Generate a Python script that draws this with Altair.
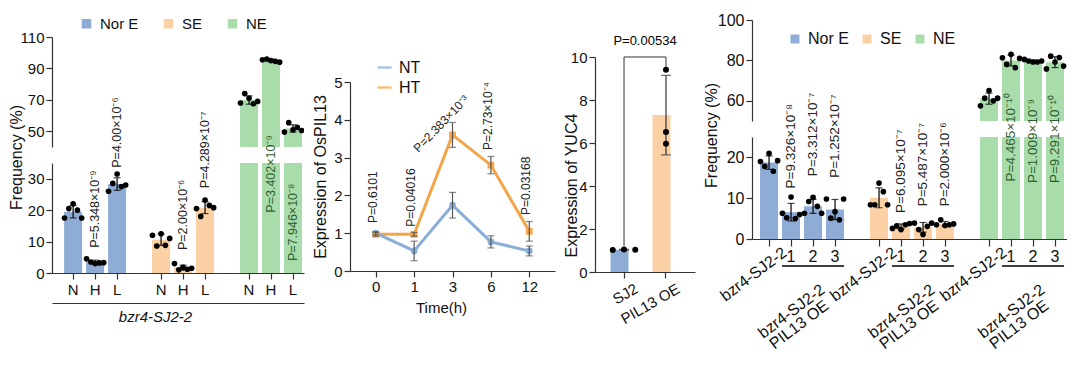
import altair as alt
import pandas as pd

FONT = "Liberation Sans"
BLUE = "#8eacd6"
PEACH = "#fbd0a4"
GREEN = "#a8dcab"
NT_COL = "#8aaed8"
HT_COL = "#f3a547"
AXC = "#333333"
PGREEN = "#2f5f31"

# ---------------- Panel A data ----------------
a_env = ["Nor E", "SE", "NE"]
a_treat = ["N", "H", "L"]
a_points = [
    [17.5, 20.5, 22.0, 20.0, 17.5],   # Nor E N
    [4.5, 3.5, 3.0, 3.2, 3.3],        # Nor E H
    [26.0, 28.5, 31.5, 27.5, 28.0],   # Nor E L
    [12.0, 8.6, 12.5, 8.8, 11.0],     # SE N
    [3.0, 1.0, 1.8, 1.2, 1.5],        # SE H
    [20.5, 18.0, 23.2, 21.5, 20.8],   # SE L
    [68.0, 74.0, 71.0, 67.5, 69.0],   # NE N
    [95.5, 96.0, 95.0, 94.5, 94.0],   # NE H
    [49.5, 55.5, 51.0, 52.5, 50.5],   # NE L
]
a_pvals = ["", "P=5.348×10⁻⁹", "P=4.00×10⁻⁶",
           "", "P=2.00×10⁻⁶", "P=4.289×10⁻⁷",
           "", "P=3.402×10⁻⁹", "P=7.946×10⁻⁸"]
a_pval_y = [None, 8.0, 33.5, None, 7.3, 27.0, None, 19.2, 3.8]
a_group_title = "bzr4-SJ2-2"

# ---------------- Panel B data ----------------
b_time = ["0", "1", "3", "6", "12"]
b_series = ["NT", "HT"]
nt_mean = [1.00, 0.53, 1.74, 0.77, 0.53]
nt_err = [0.04, 0.26, 0.34, 0.16, 0.13]
ht_mean = [0.97, 0.97, 3.60, 2.80, 1.05]
ht_err = [0.05, 0.05, 0.33, 0.23, 0.26]
b_pvals = ["P=0.6101", "P=0.04016", "P=2.383×10⁻³", "P=2.73×10⁻⁴", "P=0.03168"]
b_pval_y = [1.27, 1.17, 3.9, 3.2, 1.48]

# ---------------- Panel C data ----------------
c_lines = ["SJ2", "PIL13 OE"]
c_sj2 = [1.02, 1.05, 1.04]
c_oe = [9.41, 6.51, 5.97]
c_pval = "P=0.00534"
c_bracket_top = 10.0
c_bracket_ends = [1.2, 9.5]

# ---------------- Panel D data ----------------
d_env = ["Nor E", "SE", "NE"]
d_lines = ["bzr4-SJ2-2", "1", "2", "3"]
d_points = [
    [19.0, 17.8, 21.0, 16.6, 19.2],   # Nor E bzr4
    [6.3, 5.2, 10.3, 5.0, 6.0],       # Nor E 1
    [6.3, 9.2, 10.2, 8.0, 6.3],       # Nor E 2
    [9.8, 5.1, 6.7, 4.7, 9.8],        # Nor E 3
    [8.4, 8.4, 13.7, 11.6, 8.4],      # SE bzr4
    [2.6, 3.2, 2.3, 3.5, 3.8],        # SE 1
    [3.9, 2.3, 1.1, 3.1, 3.9],        # SE 2
    [3.5, 4.7, 3.3, 3.5, 3.7],        # SE 3
    [57.5, 61.3, 65.1, 60.0, 61.3],   # NE bzr4
    [81.3, 78.0, 83.0, 76.4, 81.0],   # NE 1
    [80.5, 79.7, 79.2, 79.2, 79.7],   # NE 2
    [75.8, 82.1, 79.2, 81.4, 77.2],   # NE 3
]
d_pvals = ["", "P=9.326×10⁻⁸", "P=3.312×10⁻⁷", "P=1.252×10⁻⁷",
           "", "P=6.095×10⁻⁷", "P=5.487×10⁻⁷", "P=2.000×10⁻⁶",
           "", "P=4.465×10⁻¹⁰", "P=1.009×10⁻⁹", "P=9.291×10⁻¹⁰"]
d_pval_y = [None, 12.4, 15.4, 15.0, None, 6.4, 8.0, 8.0, None, 14.1, 13.7, 13.7]
d_group_label = ["bzr4-SJ2-2", "PIL13 OE"]

ENV_RANGE = [BLUE, PEACH, GREEN]


def spacer(h, w):
    return alt.Chart(pd.DataFrame({"z": [0]})).mark_point(opacity=0).properties(width=w, height=h)


def yaxis(values, title=None, size=14, **kw):
    return alt.Axis(values=values, title=title, labelFontSize=size, tickSize=6,
                    titleFontSize=16, titleFontWeight="normal", grid=False, **kw)


# ======================= Panel A =======================
a_domain = []
for i, e in enumerate(a_env):
    a_domain += [f"{t}·{e}" for t in a_treat]
    if i < len(a_env) - 1:
        a_domain.append(f"gap{i}")
a_bar_cats = [f"{t}·{e}" for e in a_env for t in a_treat]

rows = []
for k, cat in enumerate(a_bar_cats):
    for r, v in enumerate(a_points[k]):
        rows.append({"cat": cat, "env": a_env[k // 3], "rep": r, "v": v})
a_df = pd.DataFrame(rows)
a_ann = pd.DataFrame([{"cat": c, "env": a_env[k // 3], "p": a_pvals[k], "py": a_pval_y[k]}
                      for k, c in enumerate(a_bar_cats) if a_pvals[k]])

A_W = 252
A_XS = alt.Scale(domain=a_domain, paddingInner=0.18, paddingOuter=0.32, align=0.86)


def xA(axis=None):
    return alt.X("cat:N", scale=A_XS, axis=axis, title=None)


def yA_top(field):
    return alt.Y(field, scale=alt.Scale(domain=[40, 110], nice=False, zero=False),
                 axis=yaxis([50, 70, 90, 110], size=15), title=None)


A_TITLE = "Frequency (%)"


def yA_bot(field):
    return alt.Y(field, scale=alt.Scale(domain=[0, 35], nice=False),
                 axis=yaxis([0, 10, 20, 30], title=A_TITLE, size=15, titleX=-28, titleY=-6),
                 title=A_TITLE)


a_color_leg = alt.Color("env:N", scale=alt.Scale(domain=a_env, range=ENV_RANGE),
                        legend=alt.Legend(orient="none", legendX=27, legendY=-21,
                                          direction="horizontal", title=None,
                                          symbolType="square", symbolSize=90,
                                          symbolStrokeWidth=0, labelFontSize=15,
                                          columnPadding=22, labelOffset=6))
a_color = alt.Color("env:N", scale=alt.Scale(domain=a_env, range=ENV_RANGE), legend=None)
a_xoff = alt.XOffset("rep:N", scale=alt.Scale(paddingInner=0, paddingOuter=0.1))

ne_only = "datum.env == 'NE'"
not_ne = "datum.env != 'NE'"

a_top = alt.layer(
    alt.Chart(a_df).transform_filter(ne_only).mark_bar(clip=True).encode(
        x=xA(), y=yA_top("mean(v):Q"), color=a_color_leg),
    alt.Chart(a_df).transform_filter(ne_only).mark_errorbar(
        extent="stdev", ticks={"size": 7}, color="black", thickness=1.2).encode(
        x=xA(), y=yA_top("v:Q")),
    alt.Chart(a_df).transform_filter(ne_only).mark_circle(
        size=32, color="black", opacity=1, clip=True).encode(
        x=xA(), xOffset=a_xoff, y=yA_top("v:Q")),
).properties(width=A_W, height=110)

a_axis_main = alt.Axis(values=a_bar_cats, labelExpr="split(datum.label, '·')[0]",
                       labelAngle=0, tickSize=6, labelFontSize=15, labelPadding=3,
                       labelOverlap=False, title=None, orient="bottom")
a_axis_group = alt.Axis(orient="bottom", offset=30, ticks=False, labels=False, domain=True,
                        title=a_group_title, titleFontStyle="italic", titleFontSize=15,
                        titleFontWeight="normal", titleX=103, titlePadding=6)

a_bottom = alt.layer(
    alt.Chart(a_df).mark_bar(clip=True).encode(
        x=xA(a_axis_main), y=yA_bot("mean(v):Q"), color=a_color),
    alt.Chart(a_df).transform_filter(not_ne).mark_errorbar(
        extent="stdev", ticks={"size": 7}, color="black", thickness=1.2).encode(
        x=xA(), y=yA_bot("v:Q")),
    alt.Chart(a_df).transform_filter(not_ne).mark_circle(
        size=32, color="black", opacity=1, clip=True).encode(
        x=alt.X("cat:N", scale=A_XS, axis=a_axis_group, title=a_group_title),
        xOffset=a_xoff, y=yA_bot("v:Q")),
    alt.Chart(a_ann).transform_filter(not_ne).mark_text(
        angle=270, align="left", baseline="middle", fontSize=12.5, color="#222").encode(
        x=xA(), y=yA_bot("py:Q"), text="p:N"),
    alt.Chart(a_ann).transform_filter(ne_only).mark_text(
        angle=270, align="left", baseline="middle", fontSize=12.5, color=PGREEN).encode(
        x=xA(), y=yA_bot("py:Q"), text="p:N"),
).resolve_axis(x="independent").properties(width=A_W, height=110)

# gap of 16 px between the two halves of the broken axis
col_a = alt.vconcat(spacer(17, A_W), alt.vconcat(a_top, a_bottom, spacing=16, bounds="flush"),
                    spacing=0, bounds="flush").resolve_scale(color="independent",
                                                            xOffset="independent")

# ======================= Panel B =======================
b_rows = []
for s, means, errs in [("HT", ht_mean, ht_err), ("NT", nt_mean, nt_err)]:
    for t, m, e in zip(b_time, means, errs):
        b_rows.append({"series": s, "t": t, "m": m, "e": e})
b_df = pd.DataFrame(b_rows)
b_ann = pd.DataFrame({"t": b_time, "p": b_pvals, "py": b_pval_y})

B_XS = alt.Scale(domain=b_time, type="point", padding=0.67)
B_TITLE = "Expression of OsPIL13"


def xB(axis=None):
    return alt.X("t:O", scale=B_XS, axis=axis, title="Time(h)")


def yB(field):
    return alt.Y(field, scale=alt.Scale(domain=[0, 5], nice=False),
                 axis=yaxis([0, 1, 2, 3, 4, 5], title=B_TITLE, size=15, titleX=-22),
                 title=B_TITLE)


b_xaxis = alt.Axis(labelAngle=0, labelFontSize=15, tickSize=6, title="Time(h)",
                   titleFontSize=15, titleFontWeight="normal", titleX=91, titlePadding=6)
b_color_scale = alt.Scale(domain=b_series, range=[NT_COL, HT_COL])

b_chart = alt.layer(
    alt.Chart(b_df).mark_line(strokeWidth=3).encode(
        x=xB(b_xaxis), y=yB("m:Q"),
        color=alt.Color("series:N", scale=b_color_scale,
                        legend=alt.Legend(orient="none", legendX=26, legendY=-23, title=None,
                                          symbolType="stroke", symbolSize=200,
                                          symbolStrokeWidth=2.5, symbolOpacity=0.7,
                                          labelFontSize=16, rowPadding=3, labelOffset=6))),
    alt.Chart(b_df).transform_filter("datum.series == 'NT'").mark_point(
        filled=True, size=45, opacity=1, shape="circle").encode(
        x=xB(b_xaxis), y=yB("m:Q"),
        color=alt.Color("series:N", scale=b_color_scale, legend=None)),
    alt.Chart(b_df).transform_filter("datum.series == 'HT'").mark_point(
        filled=True, size=45, opacity=1, shape="square").encode(
        x=xB(b_xaxis), y=yB("m:Q"),
        color=alt.Color("series:N", scale=b_color_scale, legend=None)),
    alt.Chart(b_df).mark_errorbar(ticks={"size": 7}, color="#555555", thickness=1.2).encode(
        x=xB(b_xaxis), y=yB("m:Q"), yError="e:Q"),
    alt.Chart(b_ann).transform_filter("datum.t != '3'").mark_text(
        angle=270, align="left", baseline="middle", dy=-3, fontSize=12, color="#222").encode(
        x=xB(b_xaxis), y=yB("py:Q"), text="p:N"),
    alt.Chart(b_ann).transform_filter("datum.t == '3'").mark_text(
        angle=314, align="center", baseline="middle", dx=-8, dy=-8, fontSize=12,
        color="#222").encode(
        x=xB(b_xaxis), y=yB("py:Q"), text="p:N"),
).properties(width=205, height=189)

col_b = alt.vconcat(spacer(62, 205), b_chart, spacing=0, bounds="flush").resolve_scale(
    color="independent")

# ======================= Panel C =======================
c_rows = [{"line": c_lines[0], "rep": i, "v": v} for i, v in enumerate(c_sj2)] + \
         [{"line": c_lines[1], "rep": i, "v": v} for i, v in enumerate(c_oe)]
c_df = pd.DataFrame(c_rows)
c_hbr = pd.DataFrame({"a": [c_lines[0]], "b": [c_lines[1]], "y": [c_bracket_top]})
c_vbr = pd.DataFrame({"a": c_lines, "y": [c_bracket_top] * 2, "y2": c_bracket_ends})

C_XS = alt.Scale(domain=c_lines, paddingInner=0.357, paddingOuter=0.37)
C_TITLE = "Expression of YUC4"
c_xaxis = alt.Axis(labelAngle=330, labelAlign="right", labelBaseline="top", labelOffset=9,
                   labelPadding=3, tickSize=6, labelFontSize=15, title=None, labelOverlap=False)


def yC(field):
    return alt.Y(field, scale=alt.Scale(domain=[0, 10], nice=False),
                 axis=yaxis([0, 2, 4, 6, 8, 10], title=C_TITLE, size=15, titleX=-16, titleY=128),
                 title=C_TITLE)


c_chart = alt.layer(
    alt.Chart(c_df).mark_bar().encode(
        x=alt.X("line:N", scale=C_XS, axis=c_xaxis, title=None), y=yC("mean(v):Q"),
        color=alt.Color("line:N", scale=alt.Scale(domain=c_lines, range=[BLUE, PEACH]),
                        legend=None)),
    alt.Chart(c_df).mark_errorbar(extent="stdev", ticks={"size": 10}, color="#333",
                                  thickness=1.2).encode(
        x=alt.X("line:N", scale=C_XS, axis=c_xaxis, title=None), y=yC("v:Q")),
    alt.Chart(c_vbr).mark_rule(color="#333", strokeWidth=1).encode(
        x=alt.X("a:N", scale=C_XS, axis=c_xaxis, title=None), y=yC("y:Q"), y2="y2:Q"),
    alt.Chart(c_hbr).mark_rule(color="#333", strokeWidth=1).encode(
        x=alt.X("a:N", scale=C_XS, axis=c_xaxis, title=None), x2="b:N", y=yC("y:Q")),
    alt.Chart(c_df).transform_filter(f"datum.line == '{c_lines[0]}'").mark_circle(
        size=36, color="black", opacity=1).encode(
        x=alt.X("line:N", scale=C_XS, axis=c_xaxis, title=None),
        xOffset=alt.XOffset("rep:N", scale=alt.Scale(paddingOuter=0.2)), y=yC("v:Q")),
    alt.Chart(c_df).transform_filter(f"datum.line == '{c_lines[1]}'").mark_circle(
        size=36, color="black", opacity=1).encode(
        x=alt.X("line:N", scale=C_XS, axis=c_xaxis, title=None), y=yC("v:Q")),
).properties(width=100, height=215,
             title=alt.TitleParams(c_pval, fontSize=13, fontWeight="normal", offset=2,
                                   anchor="middle"))

col_c = alt.vconcat(spacer(37, 100), c_chart, spacing=0, bounds="flush").resolve_scale(
    color="independent", xOffset="independent")

# ======================= Panel D =======================
d_domain = []
for i, e in enumerate(d_env):
    d_domain += [f"{l}·{e}" for l in d_lines]
    if i < len(d_env) - 1:
        d_domain.append(f"gap{i}")
d_bar_cats = [f"{l}·{e}" for e in d_env for l in d_lines]

rows = []
for k, cat in enumerate(d_bar_cats):
    for r, v in enumerate(d_points[k]):
        rows.append({"cat": cat, "env": d_env[k // 4], "rep": r, "v": v})
d_df = pd.DataFrame(rows)
d_ann = pd.DataFrame([{"cat": c, "env": d_env[k // 4], "p": d_pvals[k], "py": d_pval_y[k]}
                      for k, c in enumerate(d_bar_cats) if d_pvals[k]])
d_ul = pd.DataFrame({"x1": [f"{d_lines[1]}·{e}" for e in d_env],
                     "x2": [f"{d_lines[3]}·{e}" for e in d_env]})

D_W = 315
D_XS = alt.Scale(domain=d_domain, paddingInner=0.18, paddingOuter=0.25, align=0.73)


def xD(axis=None, field="cat:N"):
    return alt.X(field, scale=D_XS, axis=axis, title=None)


def yD_top(field):
    return alt.Y(field, scale=alt.Scale(domain=[50, 100], nice=False, zero=False),
                 axis=yaxis([60, 80, 100], size=16), title=None)


D_TITLE = "Frequency (%)"


def yD_bot(field):
    return alt.Y(field, scale=alt.Scale(domain=[0, 25], nice=False),
                 axis=yaxis([0, 10, 20], title=D_TITLE, size=16, titleX=-33, titleY=-2),
                 title=D_TITLE)


d_color_leg = alt.Color("env:N", scale=alt.Scale(domain=d_env, range=ENV_RANGE),
                        legend=alt.Legend(orient="none", legendX=35, legendY=11,
                                          direction="horizontal", title=None,
                                          symbolType="square", symbolSize=80,
                                          symbolStrokeWidth=0, labelFontSize=16,
                                          columnPadding=10, labelOffset=5))
d_color = alt.Color("env:N", scale=alt.Scale(domain=d_env, range=ENV_RANGE), legend=None)
d_xoff = alt.XOffset("rep:N", scale=alt.Scale(paddingInner=0, paddingOuter=0.1))

d_top = alt.layer(
    alt.Chart(d_df).transform_filter(ne_only).mark_bar(clip=True).encode(
        x=xD(), y=yD_top("mean(v):Q"), color=d_color_leg),
    alt.Chart(d_df).transform_filter(ne_only).mark_errorbar(
        extent="stdev", ticks={"size": 7}, color="black", thickness=1.2).encode(
        x=xD(), y=yD_top("v:Q")),
    alt.Chart(d_df).transform_filter(ne_only).mark_circle(
        size=32, color="black", opacity=1, clip=True).encode(
        x=xD(), xOffset=d_xoff, y=yD_top("v:Q")),
).properties(width=D_W, height=101)

bzr_cats = [c for c in d_bar_cats if c.startswith(d_lines[0])]
two_cats = [c for c in d_bar_cats if c.startswith(d_lines[2] + "·")]

d_axis_main = alt.Axis(values=d_bar_cats, orient="bottom",
                       labelExpr=f"indexof(datum.label, '{d_lines[0]}') == 0 ? '' : split(datum.label, '·')[0]",
                       labelAngle=0, tickSize=7, labelFontSize=16, labelPadding=2,
                       labelOverlap=False, title=None)
d_axis_bzr = alt.Axis(values=bzr_cats, orient="bottom", labelExpr="split(datum.label, '·')[0]",
                      labelAngle=323, labelAlign="right", labelBaseline="top",
                      labelOffset=11, labelPadding=5, ticks=False, domain=False,
                      labelFontSize=16, labelOverlap=False, title=None)
d_axis_g1 = alt.Axis(values=two_cats, orient="bottom", labelExpr=f"'{d_group_label[0]}'",
                     labelAngle=323, labelAlign="right", labelBaseline="top",
                     labelOffset=5, labelPadding=42, ticks=False, domain=False,
                     labelFontSize=16, labelOverlap=False, title=None)
d_axis_g2 = alt.Axis(values=two_cats, orient="bottom", labelExpr=f"'{d_group_label[1]}'",
                     labelAngle=323, labelAlign="right", labelBaseline="top",
                     labelOffset=9, labelPadding=58, ticks=False, domain=False,
                     labelFontSize=16, labelOverlap=False, title=None)

d_bottom = alt.layer(
    alt.Chart(d_df).mark_bar(clip=True).encode(
        x=xD(d_axis_main), y=yD_bot("mean(v):Q"), color=d_color),
    alt.Chart(d_df).transform_filter(not_ne).mark_errorbar(
        extent="stdev", ticks={"size": 7}, color="black", thickness=1.2).encode(
        x=xD(), y=yD_bot("v:Q")),
    alt.Chart(d_df).transform_filter(not_ne).mark_circle(
        size=32, color="black", opacity=1, clip=True).encode(
        x=xD(d_axis_bzr), xOffset=d_xoff, y=yD_bot("v:Q")),
    alt.Chart(d_ann).transform_filter(not_ne).mark_text(
        angle=270, align="left", baseline="middle", fontSize=13.5, color="#222").encode(
        x=xD(d_axis_g1), y=yD_bot("py:Q"), text="p:N"),
    alt.Chart(d_ann).transform_filter(ne_only).mark_text(
        angle=270, align="left", baseline="middle", fontSize=13.5, color=PGREEN).encode(
        x=xD(d_axis_g2), y=yD_bot("py:Q"), text="p:N"),
    alt.Chart(d_ul).mark_rule(color="black", strokeWidth=1.5).encode(
        x=alt.X("x1:N", scale=D_XS, axis=None, bandPosition=0, title=None),
        x2=alt.X2("x2", bandPosition=1), y=alt.value(129)),
).resolve_axis(x="independent").properties(width=D_W, height=102)

col_d = alt.vconcat(d_top, d_bottom, spacing=16, bounds="flush").resolve_scale(
    color="independent", xOffset="independent")

chart = alt.hconcat(col_a, col_b, col_c, col_d, spacing=8).resolve_scale(
    color="independent", xOffset="independent"
).properties(
    padding={"left": 0, "top": 4, "right": 0, "bottom": 0}
).configure(font=FONT).configure_view(stroke=None).configure_axis(
    grid=False, domainColor=AXC, tickColor=AXC, labelColor="#111", titleColor="#111",
    labelFont=FONT, titleFont=FONT, domainWidth=1.2, tickWidth=1.2
).configure_legend(labelFont=FONT, labelColor="#111").configure_text(font=FONT)

chart.save("out.html", embed_options={"renderer": "svg", "actions": False})
